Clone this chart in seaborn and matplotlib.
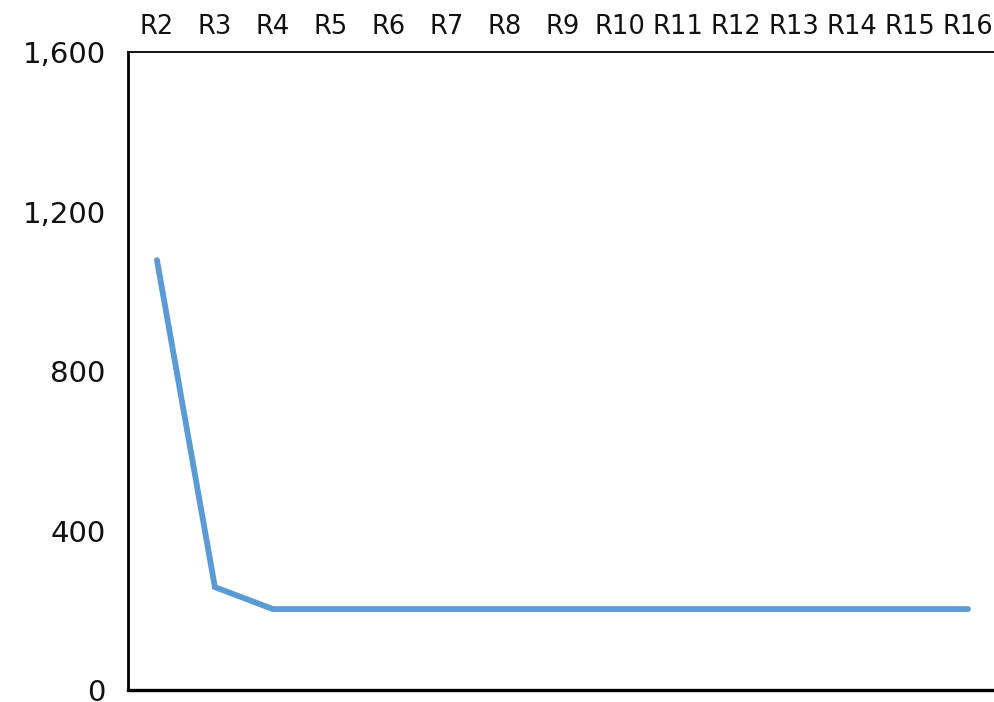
import seaborn as sns
import matplotlib.pyplot as plt
import pandas as pd
from matplotlib.ticker import FuncFormatter

# Datos
rondas = ['R2', 'R3', 'R4', 'R5', 'R6', 'R7', 'R8', 'R9', 'R10',
          'R11', 'R12', 'R13', 'R14', 'R15', 'R16']
valores = [1078, 258, 203, 203, 203, 203, 203, 203, 203,
           203, 203, 203, 203, 203, 203]

df = pd.DataFrame({'Ronda': rondas, 'Valor': valores})

sns.set_style("white")
plt.rcParams['font.family'] = ['DejaVu Sans']

fig = plt.figure(figsize=(9.94, 7.02), dpi=100)
ax = fig.add_axes([128 / 994, 12 / 702, 1 - 128 / 994, (690 - 52) / 702])

sns.lineplot(data=df, x='Ronda', y='Valor', ax=ax, color='#5B9BD5',
             linewidth=4.2, solid_capstyle='round', solid_joinstyle='miter')

ax.set_xlim(-0.5, len(rondas) - 0.55)
ax.set_ylim(0, 1600)
ax.set_yticks([0, 400, 800, 1200, 1600])
ax.yaxis.set_major_formatter(FuncFormatter(lambda v, p: f'{int(v):,}'))
ax.xaxis.tick_top()
ax.tick_params(axis='x', length=0, pad=9, labelsize=18.5, colors='#111111')
ax.tick_params(axis='y', length=0, pad=16, labelsize=21, colors='#111111')
ax.set_xlabel('')
ax.set_ylabel('')

for s in ['left', 'bottom', 'top']:
    ax.spines[s].set_visible(True)
    ax.spines[s].set_color('black')
ax.spines['left'].set_linewidth(2)
ax.spines['bottom'].set_linewidth(2.4)
ax.spines['top'].set_linewidth(1.3)
ax.spines['right'].set_visible(False)

plt.savefig('out.png', dpi=100)
